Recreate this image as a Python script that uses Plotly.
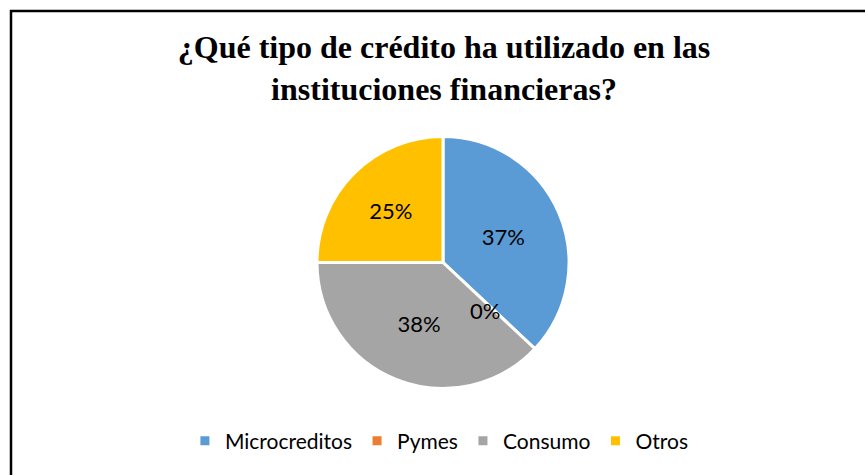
import math
import plotly.graph_objects as go

categories = ["Microcreditos", "Pymes", "Consumo", "Otros"]
values = [37, 0, 38, 25]
colors = ["#5B9BD5", "#ED7D31", "#A5A5A5", "#FFC000"]
title_text = "¿Qué tipo de crédito ha utilizado en las<br>instituciones financieras?"

W, H = 865, 475
cx, cy, r = 443, 262.5, 126
label_font = dict(family="Lato", size=22, color="black")

fig = go.Figure(go.Pie(
    labels=categories,
    values=values,
    sort=False,
    direction="clockwise",
    rotation=0,
    marker=dict(colors=colors, line=dict(color="white", width=3)),
    textinfo="percent",
    texttemplate="%{percent:.0%}",
    textposition="inside",
    insidetextorientation="horizontal",
    textfont=label_font,
    hoverinfo="label+percent",
    domain=dict(x=[(cx - r) / W, (cx + r) / W], y=[1 - (cy + r) / H, 1 - (cy - r) / H]),
))

# zero-value slices are not labelled by plotly; label them like the original
total = sum(values)
annotations = []
cum = 0
for lab, v in zip(categories, values):
    if v == 0:
        ang = math.radians(360 * cum / total)
        d = 0.5 * r
        px = cx + d * math.sin(ang) - 4
        py = cy - d * math.cos(ang) + 5
        annotations.append(dict(
            x=px / W, y=1 - py / H, xref="paper", yref="paper",
            text=f"{round(100 * v / total)}%", showarrow=False,
            font=label_font, xanchor="center", yanchor="middle",
        ))
    cum += v

fig.update_layout(
    width=W, height=H,
    margin=dict(l=0, r=0, t=0, b=0),
    paper_bgcolor="white",
    plot_bgcolor="white",
    title=dict(
        text=title_text,
        x=444 / W, xanchor="center",
        y=1 - 58 / H, yanchor="top",
        font=dict(family="Liberation Serif", size=32, color="black", weight="bold"),
    ),
    legend=dict(
        orientation="h",
        x=0.508, xanchor="center",
        y=1 - 441 / H, yanchor="middle",
        font=dict(family="Lato", size=21, color="black"),
        itemwidth=30,
        itemclick=False,
    ),
    annotations=annotations,
    shapes=[dict(
        type="rect", xref="paper", yref="paper",
        x0=11 / W, x1=1.05, y0=-0.05, y1=1 - 11 / H,
        line=dict(color="black", width=2.5),
        fillcolor="rgba(0,0,0,0)",
    )],
)

fig.write_html(
    "out.html",
    config={"displayModeBar": False},
    post_script="document.body.style.margin='0';document.body.style.overflow='hidden';",
)
